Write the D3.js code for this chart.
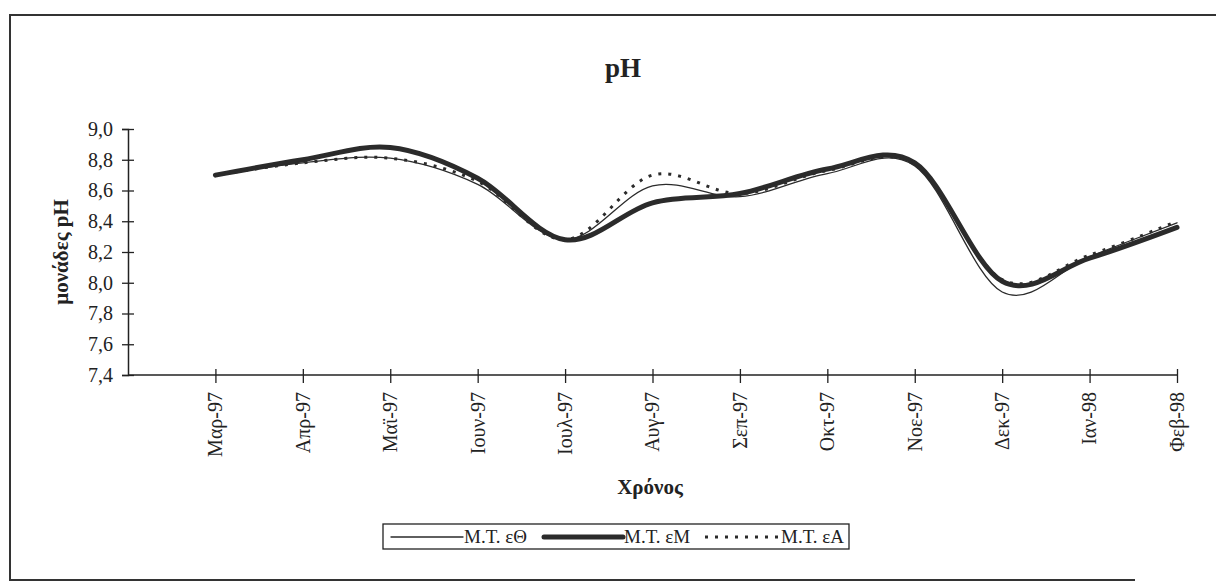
<!DOCTYPE html>
<html>
<head>
<meta charset="utf-8">
<script src="https://cdn.jsdelivr.net/npm/d3@7"></script>
<style>
  body { margin: 0; background: #fff; }
  text { font-family: "Liberation Serif", "Times New Roman", serif; fill: #222; }
</style>
</head>
<body>
<div id="chart"></div>
<script>
// months on the x axis
let months = ["Μαρ-97","Απρ-97","Μαϊ-97","Ιουν-97","Ιουλ-97","Αυγ-97","Σεπ-97","Οκτ-97","Νοε-97","Δεκ-97","Ιαν-98","Φεβ-98"]

// pH values per station
let phTheta = [8.70, 8.78, 8.81, 8.64, 8.28, 8.63, 8.56, 8.71, 8.76, 7.94, 8.17, 8.39]
let phM     = [8.70, 8.80, 8.88, 8.68, 8.28, 8.52, 8.58, 8.74, 8.78, 8.01, 8.16, 8.36]
let phA     = [8.70, 8.78, 8.81, 8.66, 8.28, 8.70, 8.58, 8.73, 8.77, 8.02, 8.18, 8.40]

let yTicks = [7.4, 7.6, 7.8, 8.0, 8.2, 8.4, 8.6, 8.8, 9.0]

let seriesNames = ["Μ.Τ. εΘ", "Μ.Τ. εΜ", "Μ.Τ. εΑ"]

let width = 1216;
let height = 588;

let svg = d3.select("#chart").append("svg")
  .attr("width", width)
  .attr("height", height);

// page frame of the scanned chart
svg.append("path")
  .attr("d", "M1216,15 H10 V580 H1135")
  .style("fill", "none")
  .style("stroke", "#333")
  .style("stroke-width", 2)

// index -1 is the empty slot between the y axis and the first month
let x = d3.scaleLinear()
  .domain([-1, months.length - 1])
  .range([128, 1177])

let y = d3.scaleLinear()
  .domain([7.4, 9.0])
  .range([375, 129])

let fmt = function(d){ return d3.format(".1f")(d).replace(".", ",") }

// y axis
let yAxis = svg.append("g")
  .attr("transform", "translate(128,0)")
  .call(d3.axisLeft(y).tickValues(yTicks).tickSize(6).tickFormat(fmt))
yAxis.select(".domain").style("stroke", "#222").style("stroke-width", 1.5)
yAxis.selectAll(".tick line").attr("x2", 6).attr("x1", -6).style("stroke", "#222").style("stroke-width", 1.3)
yAxis.selectAll(".tick text")
  .attr("x", -15)
  .style("font-size", "20px")
  .style("font-family", "Liberation Serif, serif")
  .style("fill", "#222")

// x axis
let xAxis = svg.append("g")
  .attr("transform", "translate(0,375)")
  .call(d3.axisBottom(x).tickValues(d3.range(months.length)).tickSize(7).tickFormat(function(i){ return months[i] }))
xAxis.select(".domain").attr("d", "M128,0H1177").style("stroke", "#222").style("stroke-width", 1.5)
xAxis.selectAll(".tick line").attr("y1", -6).attr("y2", 8).style("stroke", "#222").style("stroke-width", 1.3)
xAxis.selectAll(".tick text")
  .attr("transform", "rotate(-90)")
  .attr("x", -17)
  .attr("y", 0)
  .attr("dy", "0.32em")
  .style("text-anchor", "end")
  .style("font-size", "20px")
  .style("font-family", "Liberation Serif, serif")
  .style("fill", "#222")

// titles
svg.append("text")
  .attr("x", 623).attr("y", 77)
  .attr("text-anchor", "middle")
  .style("font-size", "27px").style("font-weight", "bold")
  .text("pH")

svg.append("text")
  .attr("transform", "translate(68,252) rotate(-90)")
  .attr("text-anchor", "middle")
  .style("font-size", "21px").style("font-weight", "bold")
  .text("μονάδες pH")

svg.append("text")
  .attr("x", 650).attr("y", 494)
  .attr("text-anchor", "middle")
  .style("font-size", "21px").style("font-weight", "bold")
  .text("Χρόνος")

// lines, smoothed like the spreadsheet
let line = d3.line()
  .x(function(d, i){ return x(i) })
  .y(function(d){ return y(d) })
  .curve(d3.curveCatmullRom.alpha(0))

let styles = [
  {data: phTheta, w: 1.3, dash: null},
  {data: phM, w: 5, dash: null},
  {data: phA, w: 3, dash: "3,7"}
]

svg.selectAll(".series")
  .data([styles[1], styles[0], styles[2]])
  .join("path")
  .attr("class", "series")
  .attr("d", function(d){ return line(d.data) })
  .style("fill", "none")
  .style("stroke", "#2b2b2b")
  .style("stroke-width", function(d){ return d.w })
  .style("stroke-linecap", function(d){ return d.dash ? "butt" : "round" })
  .style("stroke-dasharray", function(d){ return d.dash })

// legend
let legend = svg.append("g")
legend.append("rect")
  .attr("x", 383).attr("y", 524).attr("width", 466).attr("height", 25)
  .style("fill", "#fff").style("stroke", "#222").style("stroke-width", 1.3)

let legendX = [391, 544, 705]
let legendW = [72, 79, 75]
styles.forEach(function(s, i){
  legend.append("line")
    .attr("x1", legendX[i]).attr("x2", legendX[i] + legendW[i])
    .attr("y1", 537).attr("y2", 537)
    .style("stroke", "#2b2b2b")
    .style("stroke-width", s.w)
    .style("stroke-linecap", s.dash ? "butt" : "round")
    .style("stroke-dasharray", s.dash)
  legend.append("text")
    .attr("x", legendX[i] + legendW[i] + 1).attr("y", 543)
    .style("font-size", "19px")
    .text(seriesNames[i])
})
</script>
</body>
</html>
